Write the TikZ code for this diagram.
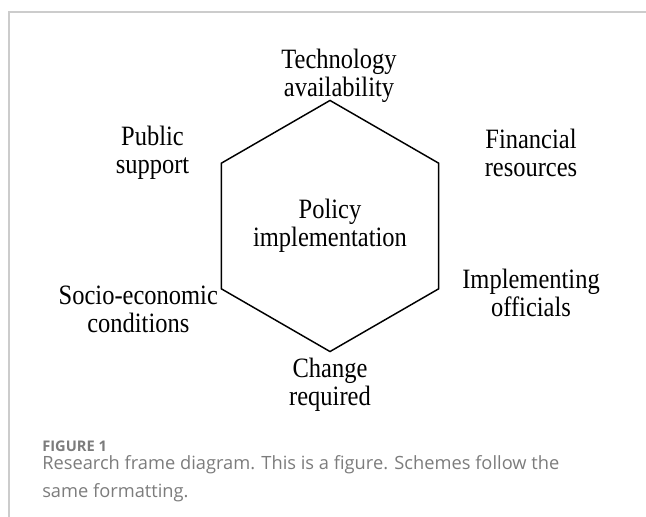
\documentclass[tikz,border=0pt]{standalone}
\usepackage{fontspec}
\setmainfont{Liberation Serif}[FakeStretch=0.875]
\newfontfamily\captionfont{Open Sans}
\usetikzlibrary{shapes.geometric,positioning}
\definecolor{framegray}{RGB}{204,204,204}
\definecolor{captiongray}{RGB}{124,124,124}

\begin{document}
\begin{tikzpicture}[
		x=0.75pt, y=-0.75pt,
		factor/.style={
				font=\fontsize{21}{21}\selectfont,
				align=center,
				inner sep=0pt
			},
		hexbox/.style={
				draw, line width=1.1pt,
				regular polygon, regular polygon sides=6,
				shape border rotate=30,
				minimum size=183pt, inner sep=0pt
			},
		captext/.style={
				font=\captionfont\fontsize{13.7}{21}\selectfont,
				text=captiongray, anchor=base west, inner sep=0pt
			}
	]
	\useasboundingbox (0,0) rectangle (646,517);
	% frame
	\draw[framegray, line width=1.1pt] (9,517) -- (9,12) -- (646,12);

	% hexagon with the factors round it
	\node[hexbox, factor] (policy) at (330,226) {Policy\\implementation};
	\node[factor] (tech) at (339,75.5) {Technology\\availability};
	\node[factor] (public) at (152.5,153) {Public\\support};
	\node[factor] (finance) at (531,153) {Financial\\resources};
	\node[factor] (socio) at (138.3,309) {Socio-economic\\conditions};
	\node[factor] (officials) at (531,293) {Implementing\\officials};
	\node[factor] (change) at (330,385) {Change\\required};

	% caption
	\node[captext, font=\captionfont\bfseries\fontsize{11}{13}\selectfont] (fignum) at (42,451) {FIGURE 1};
	\node[captext] (capline1) at (42,469) {Research frame diagram. This is a figure. Schemes follow the};
	\node[captext] (capline2) at (42,497) {same formatting.};
\end{tikzpicture}
\end{document}
